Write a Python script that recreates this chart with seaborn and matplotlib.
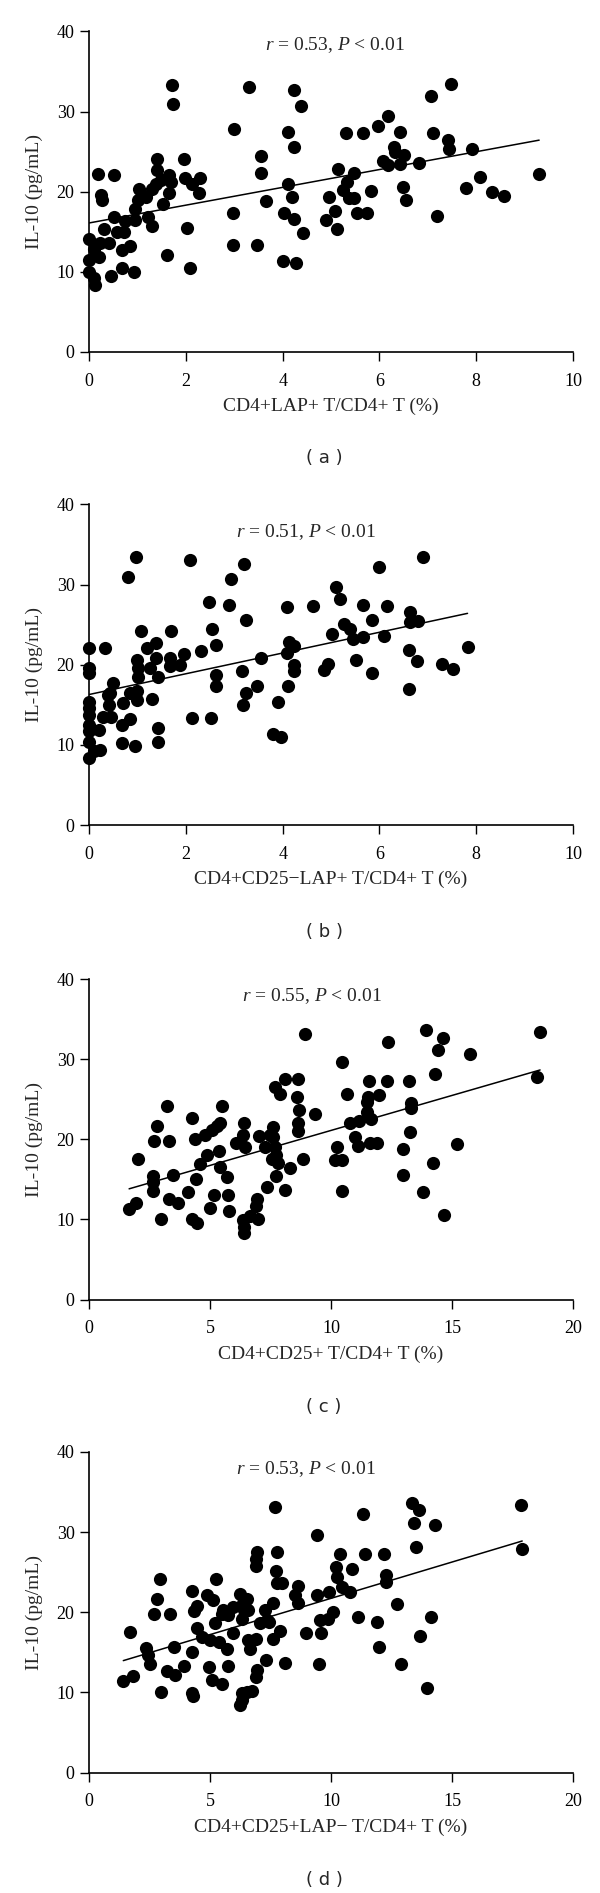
import matplotlib
matplotlib.use("Agg")
import matplotlib.pyplot as plt
import seaborn as sns
import pandas as pd

# ---------------- data ----------------
a_x = [0.18,0.51,0.24,0.26,0.0,0.0,0.0,0.09,0.13,0.10,0.20,0.30,0.22,0.40,0.46,0.52,0.58,0.74,0.72,0.67,
       0.84,0.68,0.93,0.94,0.94,1.00,1.02,1.18,1.22,1.30,1.30,1.38,1.41,1.41,1.48,1.53,1.64,1.65,1.70,1.61,
       1.72,1.73,1.95,1.97,2.13,2.03,2.09,2.30,2.26,2.99,2.97,2.98,3.31,3.56,3.55,3.66,3.47,4.10,4.24,4.24,
       4.38,4.10,4.20,4.02,4.24,4.42,4.01,4.28,4.95,4.90,5.09,5.13,5.15,5.31,5.25,5.33,5.37,5.47,5.47,5.53,
       5.65,5.75,5.83,5.97,6.18,6.07,6.18,6.30,6.33,6.42,6.42,6.50,6.48,6.54,6.82,7.07,7.10,7.18,7.42,7.43,
       7.47,7.79,7.92,8.08,8.33,8.57,9.30]
a_y = [22.2,22.1,19.6,19.0,14.1,11.5,10.0,9.2,8.3,12.9,11.9,15.4,13.6,13.6,9.5,16.9,15.0,16.3,15.0,12.7,
       13.2,10.5,10.0,16.5,17.8,19.0,20.3,19.4,16.9,15.7,20.4,21.0,24.1,22.7,21.5,18.5,22.1,19.9,21.2,12.1,
       33.3,30.9,24.1,21.7,21.0,15.5,10.5,21.7,19.8,27.8,17.4,13.4,33.1,24.4,22.4,18.8,13.4,27.5,25.6,32.7,
       30.7,21.0,19.3,17.4,16.6,14.9,11.4,11.1,19.3,16.5,17.6,15.3,22.9,27.3,20.2,21.2,19.2,22.4,19.2,17.3,
       27.3,17.3,20.1,28.2,29.5,23.9,23.3,25.6,25.0,27.5,23.5,24.6,20.6,19.0,23.6,32.0,27.3,17.0,26.5,25.3,
       33.4,20.5,25.3,21.8,20.0,19.5,22.2]

b_x = [0,0,0,0.33,0,0,0,0,0,0,0,0.09,0.22,0.21,0.50,0.43,0.40,0.29,0.46,0.67,
       0.85,0.69,0.85,0.98,0.98,1.29,1.43,1.43,0.67,0.95,0.81,0.97,1.08,0.98,1.01,1.00,1.19,1.26,1.39,1.39,
       1.43,1.70,1.67,1.66,1.88,1.96,2.08,2.12,2.32,2.48,2.53,2.63,2.63,2.63,2.51,2.88,2.93,3.20,3.25,3.15,
       3.17,3.25,3.46,3.56,3.80,3.96,3.91,4.11,4.08,4.13,4.23,4.09,4.23,4.23,4.62,4.94,4.85,5.01,5.11,5.18,
       5.27,5.40,5.46,5.66,5.51,5.65,5.84,5.84,6.00,6.15,6.09,6.63,6.63,6.80,6.62,6.78,6.62,6.90,7.30,7.51,
       7.82,0.38]
b_y = [22.1,19.6,19.0,22.1,15.4,14.6,13.75,12.5,11.7,10.4,8.3,9.2,9.4,11.9,17.7,16.5,15.0,13.5,13.5,12.5,
       13.2,15.2,16.5,16.7,15.6,15.75,12.1,10.4,10.2,9.9,31.0,33.5,24.2,20.6,19.6,18.5,22.1,19.6,22.7,20.8,
       18.5,24.2,20.8,19.8,20.0,21.3,33.1,13.4,21.75,27.8,24.4,22.5,18.75,17.4,13.4,27.5,30.75,32.6,25.6,19.2,
       15.0,16.5,17.3,20.8,11.3,10.95,15.3,17.4,27.2,22.9,22.3,21.5,20.0,19.25,27.3,20.1,19.3,23.8,29.7,28.2,
       25.1,24.4,23.25,23.5,20.6,27.5,25.6,19.0,32.2,27.3,23.6,26.6,25.3,25.4,21.8,20.5,17.0,33.5,20.1,19.5,
       22.2,16.25]

c_x = [1.65,1.94,2.00,2.62,2.65,2.62,2.79,2.69,2.95,3.23,3.31,3.48,3.30,3.68,4.07,4.26,4.37,4.41,4.24,4.47,
       4.58,4.79,4.86,5.06,5.27,5.40,5.47,5.38,5.40,5.68,5.16,5.75,4.99,5.79,6.07,6.41,6.34,6.44,6.34,6.41,
       6.41,6.65,6.99,6.92,6.89,7.03,7.33,7.27,7.61,7.47,7.68,7.88,7.54,7.72,7.72,8.09,8.64,8.57,8.68,8.64,
       8.64,9.33,8.92,7.61,7.68,7.82,8.30,8.09,8.85,10.43,10.67,10.23,10.16,10.47,10.43,10.77,10.98,11.12,11.16,11.47,
       11.47,11.53,11.58,11.67,11.60,11.90,11.99,12.32,12.36,12.96,12.98,13.23,13.32,13.32,13.28,13.80,13.92,14.22,14.29,14.43,
       14.64,14.66,15.21,15.74,18.64,18.53]
c_y = [11.35,12.0,17.5,15.4,14.7,13.6,21.7,19.8,10.0,24.1,19.8,15.6,12.5,12.1,13.4,22.7,20.1,15.0,10.1,9.5,
       16.9,20.6,18.1,21.2,21.7,22.1,24.2,18.5,16.5,15.3,13.1,13.1,11.4,11.1,19.5,22.0,20.6,19.1,9.9,9.1,
       8.3,10.4,10.0,12.5,11.7,20.4,14.1,19.0,21.5,20.5,26.5,25.7,17.6,15.4,18.0,27.5,27.5,25.3,23.7,22.1,
       21.1,23.2,33.1,20.3,19.0,17.0,16.4,13.7,17.6,29.7,25.7,19.0,17.4,17.4,13.5,22.0,20.3,19.2,22.3,23.4,
       24.7,25.3,27.3,22.6,19.5,19.5,25.5,27.3,32.2,18.8,15.6,27.3,24.5,23.9,20.9,13.4,33.6,17.0,28.2,31.1,
       32.6,10.5,19.4,30.7,33.4,27.8]

d_x = [1.41,1.80,1.69,2.35,2.45,2.51,2.93,2.79,2.69,3.34,2.97,3.50,3.20,3.55,3.92,4.26,4.44,4.33,4.26,4.26,
       4.28,4.44,4.65,4.86,5.10,4.99,5.20,5.24,5.38,5.47,5.54,5.75,5.68,4.96,5.75,5.06,5.47,5.93,5.96,6.23,
       6.34,6.51,6.41,6.30,6.58,6.58,6.65,6.89,6.92,6.89,6.89,6.30,6.30,6.23,6.51,6.75,6.92,6.89,7.26,7.05,
       7.33,7.44,7.31,7.61,7.68,7.75,7.72,7.78,7.61,7.95,7.88,8.09,8.64,8.50,8.64,8.98,9.43,9.40,9.60,9.54,
       9.51,9.92,9.88,10.09,10.20,10.36,10.23,10.43,10.77,10.88,11.12,11.33,11.40,11.90,11.99,12.20,12.27,12.29,12.73,12.91,
       13.36,13.63,13.43,13.53,13.67,13.97,14.15,14.28,17.85,17.90]
d_y = [11.45,12.1,17.5,15.5,14.65,13.5,24.2,21.7,19.8,19.8,10.0,15.7,12.7,12.2,13.3,22.6,20.8,20.1,15.1,9.9,
       9.5,18.0,16.9,22.1,21.5,16.5,18.6,24.2,16.3,19.8,20.3,19.6,15.4,13.2,13.3,11.6,11.1,17.4,20.7,22.3,
       21.1,21.7,20.3,19.2,20.3,16.5,15.4,16.7,27.5,26.7,25.8,9.9,9.0,8.4,10.1,10.2,12.8,11.9,20.3,18.6,
       19.0,18.8,14.0,21.1,33.1,27.5,25.2,23.6,16.7,23.7,17.6,13.7,23.3,22.1,21.1,17.4,29.6,22.1,17.4,19.0,
       13.5,22.5,19.2,20.0,25.7,27.3,24.4,23.2,22.5,25.4,19.4,32.2,27.3,18.8,15.7,27.3,24.6,23.8,21.0,13.5,
       33.6,32.7,31.1,28.2,17.0,10.5,19.4,30.9,33.4,27.9]

panel_tags = ["( a )", "( b )", "( c )", "( d )"]
x_labels = ["CD4+LAP+ T/CD4+ T (%)", "CD4+CD25\u2212LAP+ T/CD4+ T (%)",
            "CD4+CD25+ T/CD4+ T (%)", "CD4+CD25+LAP\u2212 T/CD4+ T (%)"]
r_values = ["0.53", "0.51", "0.55", "0.53"]
x_maxes = [10, 10, 20, 20]
x_steps = [2, 2, 5, 5]
y_ticks = [0, 10, 20, 30, 40]

# ---------------- style ----------------
sns.set_style("ticks")
plt.rcParams['font.family'] = ['Liberation Serif', 'DejaVu Serif']
plt.rcParams['mathtext.fontset'] = 'custom'
plt.rcParams['mathtext.rm'] = 'Liberation Serif'
plt.rcParams['mathtext.it'] = 'Liberation Serif:italic'
plt.rcParams['axes.linewidth'] = 1.2
plt.rcParams['xtick.major.width'] = 1.0
plt.rcParams['ytick.major.width'] = 1.0
plt.rcParams['xtick.major.size'] = 6.5
plt.rcParams['ytick.major.size'] = 6.5
plt.rcParams['xtick.direction'] = 'out'
plt.rcParams['ytick.direction'] = 'out'
plt.rcParams['xtick.color'] = 'black'
plt.rcParams['ytick.color'] = 'black'
plt.rcParams['axes.edgecolor'] = 'black'

fig = plt.figure(figsize=(6.0, 18.93), dpi=100)

H = 1893.0
left = 89.2 / 600
width = (573.0 - 89.2) / 600
height = 320.5 / H
zero_px = [352.0, 825.0, 1299.6, 1772.5]
tag_px = [458.0, 932.0, 1407.0, 1880.0]
ann_pos = [(5.08, 38.3), (4.49, 36.5), (9.23, 37.9), (8.95, 37.9)]

datasets = [(a_x, a_y), (b_x, b_y), (c_x, c_y), (d_x, d_y)]

for i, (xs, ys) in enumerate(datasets):
    df = pd.DataFrame({"x": xs, "y": ys})
    ax = fig.add_axes([left, 1 - zero_px[i] / H, width, height])
    sns.regplot(data=df, x="x", y="y", ax=ax, ci=None, truncate=True,
                scatter_kws=dict(s=90, color="black", linewidths=0, alpha=1, clip_on=False),
                line_kws=dict(color="black", lw=1.1))
    ax.set_xlim(0, x_maxes[i])
    ax.set_ylim(0, 40)
    ax.set_xticks(list(range(0, x_maxes[i] + 1, x_steps[i])))
    ax.set_yticks(y_ticks)
    ax.tick_params(axis='x', labelsize=13, pad=8.5)
    ax.tick_params(axis='y', labelsize=13, pad=4)
    sns.despine(ax=ax)
    ax.set_xlabel(x_labels[i], fontsize=14, labelpad=6)
    ax.set_ylabel("IL-10 (pg/mL)", fontsize=14, labelpad=10)
    ax.text(ann_pos[i][0], ann_pos[i][1],
            r"$\mathit{r}$ = " + r_values[i] + r", $\mathit{P}$ < 0.01",
            ha="center", va="center", fontsize=14)
    fig.text(0.54, 1 - tag_px[i] / H, panel_tags[i], ha="center", va="center",
             fontsize=13, family=["DejaVu Sans"])

fig.savefig("out.png", dpi=100, facecolor="white")
